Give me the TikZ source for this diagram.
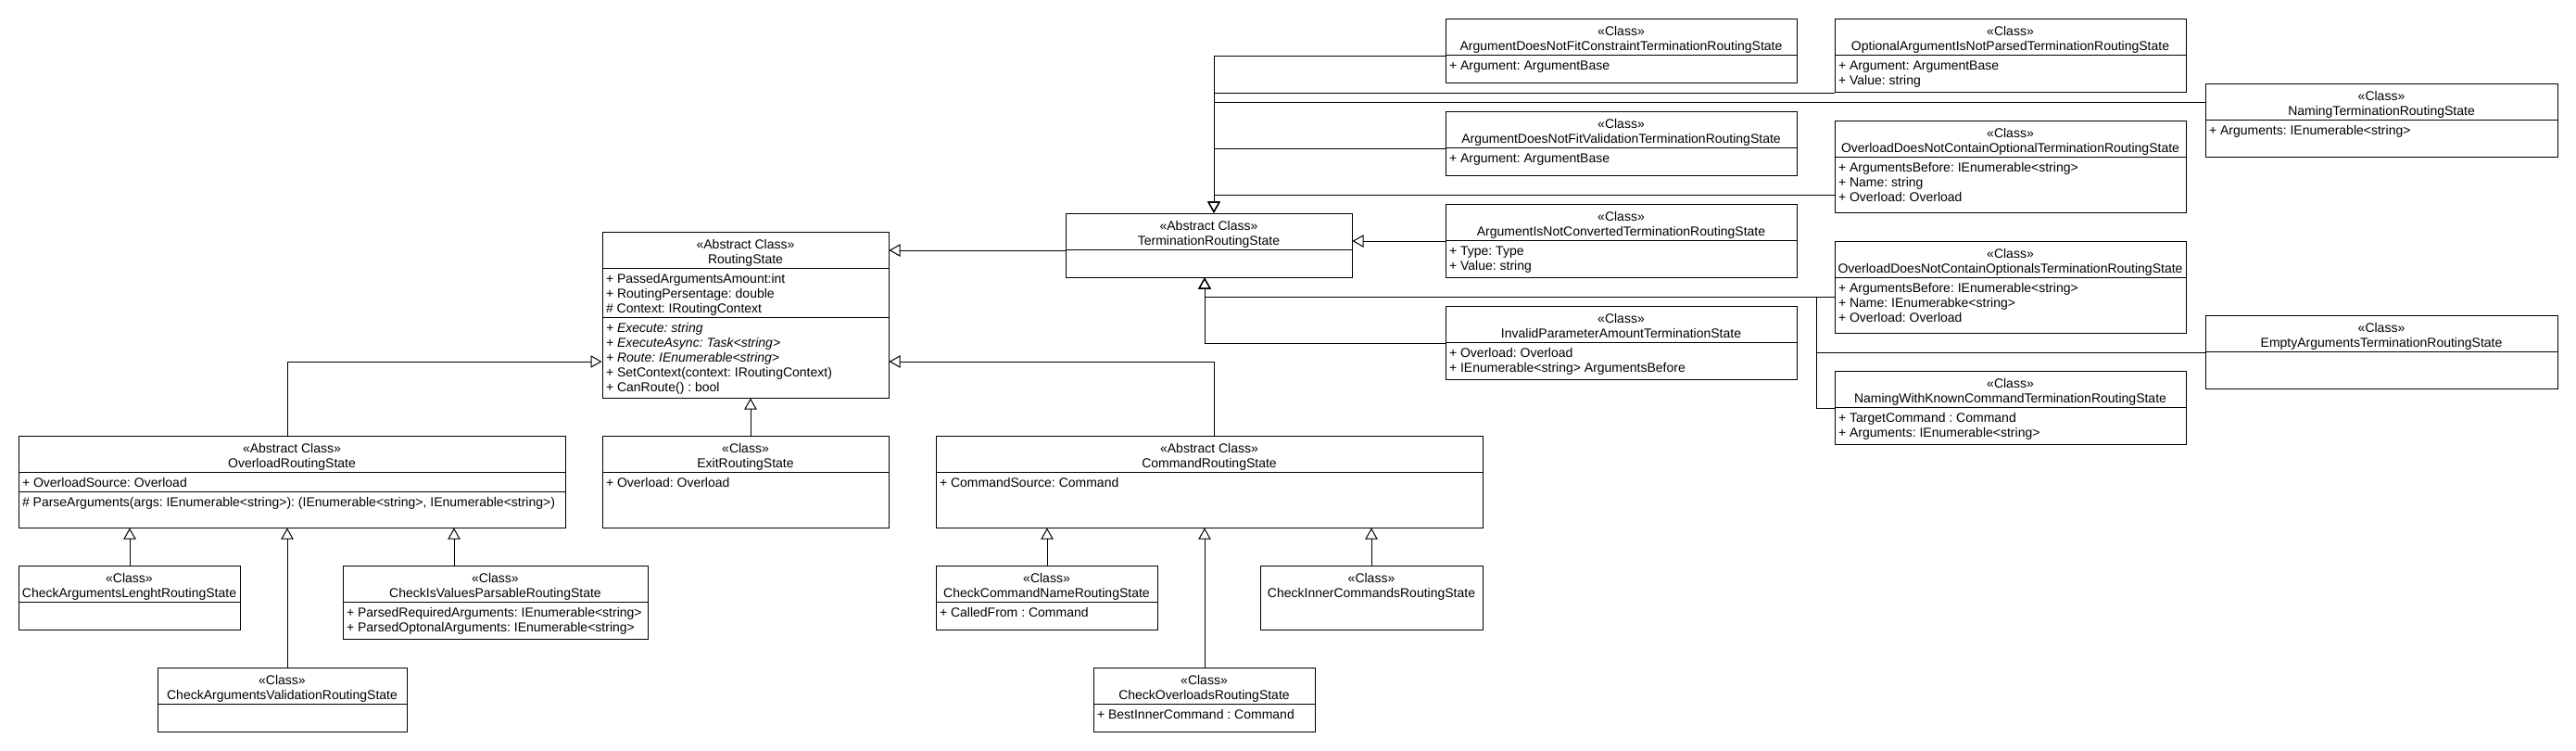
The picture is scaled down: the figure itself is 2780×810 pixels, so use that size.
\documentclass[tikz,border=0pt]{standalone}
\usepackage{fontspec}
\setmainfont{Liberation Sans}
\usetikzlibrary{arrows.meta,fit}
\frenchspacing

\tikzset{
  box/.style={draw, inner sep=0pt, line width=0.75pt},
  head/.style={font=\fontsize{10.5pt}{12pt}\selectfont, align=center, inner sep=0pt, anchor=north},
  attr/.style={font=\fontsize{10.5pt}{12pt}\selectfont, align=left, inner sep=0pt, anchor=north west},
  inherit/.style={line width=0.75pt, -{Triangle[open, length=9pt, width=10pt]}}
}

% class box: name, x1, y1, x2, y2, stereotype, title
\newcommand{\umlclass}[7]{%
  \node[box, fit={(#2,#3) (#4,#5)}] (#1) {};
  \path (#1.north) ++(0,7) node[head] {\strut«#6»\\#7};
}
% compartment: class name, y of separator, lines
\newcommand{\compart}[3]{%
  \draw (#1.west |- 0,#2) -- (#1.east |- 0,#2);
  \path (#1.west |- 0,#2) ++(4,5) node[attr] {\strut #3};
}

\begin{document}
\begin{tikzpicture}[x=0.75pt, y=-0.75pt, line width=0.75pt]
    \useasboundingbox (0,0) rectangle (2780,810);

    % routing states
    \umlclass{rs}{650}{250}{959}{429}{Abstract Class}{RoutingState}
    \compart{rs}{289}{+ PassedArgumentsAmount:int\\+ RoutingPersentage: double\\\# Context: IRoutingContext}
    \compart{rs}{342}{\textit{+ Execute: string}\\\textit{+ ExecuteAsync: Task<string>}\\\textit{+ Route: IEnumerable<string>}\\+ SetContext(context: IRoutingContext)\\+ CanRoute() : bool}
    \umlclass{ovl}{20}{470}{610}{569}{Abstract Class}{OverloadRoutingState}
    \compart{ovl}{509}{+ OverloadSource: Overload}
    \compart{ovl}{530}{\# ParseArguments(args: IEnumerable<string>): (IEnumerable<string>, IEnumerable<string>)}
    \umlclass{exit}{650}{470}{959}{569}{Class}{ExitRoutingState}
    \compart{exit}{509}{+ Overload: Overload}
    \umlclass{cmd}{1010}{470}{1600}{569}{Abstract Class}{CommandRoutingState}
    \compart{cmd}{509}{+ CommandSource: Command}
    \umlclass{len}{20}{610}{259}{679}{Class}{CheckArgumentsLenghtRoutingState}
    \compart{len}{649}{}
    \umlclass{parse}{370}{610}{699}{689}{Class}{CheckIsValuesParsableRoutingState}
    \compart{parse}{649}{+ ParsedRequiredArguments: IEnumerable<string>\\+ ParsedOptonalArguments: IEnumerable<string>}
    \umlclass{val}{170}{720}{439}{789}{Class}{CheckArgumentsValidationRoutingState}
    \compart{val}{759}{}
    \umlclass{cname}{1010}{610}{1249}{679}{Class}{CheckCommandNameRoutingState}
    \compart{cname}{649}{+ CalledFrom : Command}
    \umlclass{inner}{1360}{610}{1600}{679}{Class}{CheckInnerCommandsRoutingState}
    \umlclass{covl}{1180}{720}{1419}{789}{Class}{CheckOverloadsRoutingState}
    \compart{covl}{759}{+ BestInnerCommand : Command}

    % termination states
    \umlclass{ter}{1150}{230}{1459}{299}{Abstract Class}{TerminationRoutingState}
    \compart{ter}{269}{}
    \umlclass{fitc}{1560}{20}{1939}{89}{Class}{ArgumentDoesNotFitConstraintTerminationRoutingState}
    \compart{fitc}{59}{+ Argument: ArgumentBase}
    \umlclass{fitv}{1560}{120}{1939}{189}{Class}{ArgumentDoesNotFitValidationTerminationRoutingState}
    \compart{fitv}{159}{+ Argument: ArgumentBase}
    \umlclass{conv}{1560}{220}{1939}{299}{Class}{ArgumentIsNotConvertedTerminationRoutingState}
    \compart{conv}{259}{+ Type: Type\\+ Value: string}
    \umlclass{inv}{1560}{330}{1939}{409}{Class}{InvalidParameterAmountTerminationState}
    \compart{inv}{369}{+ Overload: Overload\\+ IEnumerable<string> ArgumentsBefore}
    \umlclass{optp}{1980}{20}{2359}{99}{Class}{OptionalArgumentIsNotParsedTerminationRoutingState}
    \compart{optp}{59}{+ Argument: ArgumentBase\\+ Value: string}
    \umlclass{nopt}{1980}{130}{2359}{229}{Class}{OverloadDoesNotContainOptionalTerminationRoutingState}
    \compart{nopt}{169}{+ ArgumentsBefore: IEnumerable<string>\\+ Name: string\\+ Overload: Overload}
    \umlclass{nopts}{1980}{260}{2359}{359}{Class}{OverloadDoesNotContainOptionalsTerminationRoutingState}
    \compart{nopts}{299}{+ ArgumentsBefore: IEnumerable<string>\\+ Name: IEnumerabke<string>\\+ Overload: Overload}
    \umlclass{nwkc}{1980}{400}{2359}{479}{Class}{NamingWithKnownCommandTerminationRoutingState}
    \compart{nwkc}{439}{+ TargetCommand : Command\\+ Arguments: IEnumerable<string>}
    \umlclass{naming}{2380}{90}{2760}{169}{Class}{NamingTerminationRoutingState}
    \compart{naming}{129}{+ Arguments: IEnumerable<string>}
    \umlclass{empty}{2380}{340}{2760}{419}{Class}{EmptyArgumentsTerminationRoutingState}
    \compart{empty}{379}{}

    % generalisations
    \draw[inherit] (ter.west |- 0,270) -- (rs.east |- 0,270);
    \draw[inherit] (310,0 |- ovl.north) |- (rs.west |- 0,390);
    \draw[inherit] (1310,0 |- cmd.north) |- (rs.east |- 0,390);
    \draw[inherit] (810,0 |- exit.north) -- (810,0 |- rs.south);

    \draw[inherit] (140,0 |- len.north) -- (140,0 |- ovl.south);
    \draw[inherit] (310,0 |- val.north) -- (310,0 |- ovl.south);
    \draw[inherit] (490,0 |- parse.north) -- (490,0 |- ovl.south);
    \draw[inherit] (1130,0 |- cname.north) -- (1130,0 |- cmd.south);
    \draw[inherit] (1300,0 |- covl.north) -- (1300,0 |- cmd.south);
    \draw[inherit] (1480,0 |- inner.north) -- (1480,0 |- cmd.south);

    \draw[inherit] (fitc.west |- 0,60) -| (1310,0 |- ter.north);
    \draw[inherit] (optp.west |- 0,100) -| (1310,0 |- ter.north);
    \draw[inherit] (naming.west |- 0,110) -| (1310,0 |- ter.north);
    \draw[inherit] (fitv.west |- 0,160) -| (1310,0 |- ter.north);
    \draw[inherit] (nopt.west |- 0,210) -| (1310,0 |- ter.north);
    \draw[inherit] (conv.west |- 0,260) -- (ter.east |- 0,260);

    \coordinate (tj) at (1960,320);
    \draw[inherit] (inv.west |- 0,370) -| (1300,0 |- ter.south);
    \draw[inherit] (nopts.west |- 0,320) -| (1300,0 |- ter.south);
    \draw[inherit] (empty.west |- 0,380) -| (tj) -| (1300,0 |- ter.south);
    \draw[inherit] (nwkc.west |- 0,440) -| (tj) -| (1300,0 |- ter.south);
\end{tikzpicture}
\end{document}
